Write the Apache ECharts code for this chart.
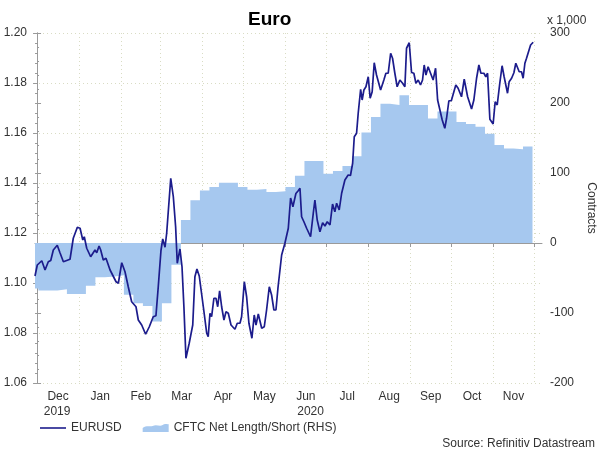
<!DOCTYPE html>
<html>
<head>
<meta charset="utf-8">
<script src="https://cdn.jsdelivr.net/npm/echarts@6/dist/echarts.min.js"></script>
<style>
  html, body { margin: 0; padding: 0; background: #fff; }
  #chart { width: 600px; height: 450px; }
</style>
</head>
<body>
<div id="chart"></div>
<script>
// x is counted in days from 1 Dec 2019
const fxDay = [-1.5, 0.2, 3.5, 4.6, 5.9, 8.3, 10.1, 12.0, 14.9, 16.9, 19.4, 24.3, 26.7, 29.7, 31.7, 33.7, 34.8, 36.6,
  39.5, 42.7, 44.0, 45.7, 46.9, 48.8, 50.8, 53.8, 58.2, 59.9, 62.4, 64.8, 67.2, 69.7, 72.9, 74.6, 77.1, 80.0,
  82.7, 85.6, 87.6, 89.3, 91.3, 92.6, 94.3, 95.5, 98.5, 100.4, 102.1, 103.3, 104.3, 105.3, 106.8, 108.2, 109.7,
  111.0, 112.1, 114.7, 116.3, 117.8, 119.5, 122.5, 125.0, 126.1, 127.4, 128.6, 130.3, 131.8, 133.1, 134.5,
  136.0, 137.7, 139.2, 140.9, 142.9, 145.8, 147.5, 149.5, 150.7, 152.7, 154.4, 156.1, 158.3, 160.0, 161.3,
  163.0, 165.5, 167.4, 169.1, 171.1, 172.8, 174.5, 176.0, 177.5, 178.6, 180.2, 182.6, 185.1, 186.8, 188.5,
  190.7, 192.4, 193.7, 194.9, 196.6, 198.6, 201.5, 203.5, 204.7, 206.4, 208.4, 210.4, 212.1, 213.8, 215.8,
  217.7, 219.4, 220.7, 222.6, 224.4, 226.8, 229.2, 230.9, 232.5, 233.7, 235.4, 236.6, 238.4, 239.5, 240.8,
  242.3, 244.0, 245.4, 246.9, 248.4, 250.1, 251.5, 253.1, 255.5, 257.0, 258.7, 260.5, 261.9, 263.6, 265.3,
  267.3, 269.3, 271.0, 272.2, 274.2, 275.9, 277.6, 279.1, 280.8, 282.5, 284.0, 285.2, 286.5, 288.1, 289.9,
  291.8, 293.6, 295.1, 296.8, 298.5, 300.4, 301.7, 303.4, 305.2, 306.6, 308.5, 310.2, 312.7, 314.7, 315.9,
  317.2, 318.5, 320.1, 321.8, 323.8, 325.5, 327.0, 329.2, 330.6, 331.9, 333.6, 336.0, 337.5, 339.0, 340.9,
  342.6, 344.1, 345.4, 346.6, 347.8, 349.6, 351.3, 352.7, 353.7, 355.2, 356.9, 358.1, 359.4, 360.6, 361.8,
  363.6, 365.5];
const fxValue = [1.1028, 1.1072, 1.1089, 1.1092, 1.1052, 1.1085, 1.1090, 1.1132, 1.1151, 1.1121, 1.1085, 1.1095, 1.1179, 1.1223, 1.1219, 1.1172, 1.1185, 1.1139,
  1.1105, 1.1132, 1.1121, 1.1148, 1.1132, 1.1092, 1.1099, 1.1052, 1.1005, 1.0999, 1.1081, 1.1045, 1.0985, 1.0925, 1.0905, 1.0852, 1.0832, 1.0795,
  1.0825, 1.0865, 1.0869, 1.0985, 1.1130, 1.1176, 1.1143, 1.1199, 1.1419, 1.1345, 1.1225, 1.1079, 1.1072, 1.1136, 1.1065, 1.0905, 1.0699,
  1.0692, 1.0759, 1.0832, 1.1025, 1.1056, 1.1028, 1.0905, 1.0799, 1.0785, 1.0879, 1.0865, 1.0939, 1.0939, 1.0905, 1.0969,
  1.0905, 1.0852, 1.0885, 1.0879, 1.0832, 1.0815, 1.0839, 1.0839, 1.0865, 1.1005, 1.0945, 1.0839, 1.0779, 1.0872, 1.0832,
  1.0876, 1.0819, 1.0825, 1.0892, 1.0985, 1.0952, 1.0892, 1.0892, 1.0981, 1.0978, 1.1112, 1.1159, 1.1219, 1.1340, 1.1305,
  1.1358, 1.1369, 1.1379, 1.1265, 1.1245, 1.1219, 1.1185, 1.1279, 1.1332, 1.1252, 1.1205, 1.1241, 1.1228, 1.1245, 1.1232,
  1.1316, 1.1285, 1.1319, 1.1292, 1.1359, 1.1412, 1.1432, 1.1430, 1.1479, 1.1585, 1.1599, 1.1679, 1.1775, 1.1732, 1.1772,
  1.1785, 1.1825, 1.1739, 1.1765, 1.1881, 1.1832, 1.1832, 1.1772, 1.1812, 1.1839, 1.1839, 1.1919, 1.1899, 1.1839, 1.1785,
  1.1812, 1.1799, 1.1785, 1.1939, 1.1961, 1.1842, 1.1839, 1.1799, 1.1812, 1.1792, 1.1812, 1.1872, 1.1832, 1.1865, 1.1839,
  1.1812, 1.1859, 1.1732, 1.1692, 1.1652, 1.1619, 1.1659, 1.1729, 1.1729, 1.1725, 1.1792, 1.1779, 1.1745, 1.1815, 1.1812,
  1.1745, 1.1750, 1.1696, 1.1732, 1.1819, 1.1872, 1.1839, 1.1839, 1.1825, 1.1839, 1.1655, 1.1636, 1.1725, 1.1712, 1.1799,
  1.1869, 1.1825, 1.1819, 1.1759, 1.1805, 1.1819, 1.1841, 1.1879, 1.1875, 1.1845, 1.1845, 1.1819, 1.1879, 1.1899, 1.1899,
  1.1952, 1.1963];

// CFTC net position, thousands of contracts, one value per week from Monday 25 Nov 2019
const cftcFirstWeek = -6;
const cftcNet = [-65, -68, -68, -66, -73, -73, -61, -49, -48, -46, -74, -86, -90, -112, -86, -31,
  33, 61, 75, 80, 86, 86, 80, 76, 77, 73, 74, 80, 96, 117, 117, 99, 103, 110, 124, 158, 180,
  199, 197, 211, 197, 197, 178, 188, 188, 173, 170, 166, 156, 140, 135, 134, 138, 138];

const monthNames = ['Dec', 'Jan', 'Feb', 'Mar', 'Apr', 'May', 'Jun', 'Jul', 'Aug', 'Sep', 'Oct', 'Nov'];
const yearNames = ['2019', '2020'];
const xMin = -1.5, xMax = 372;

function dayOf(y, m, d) {
  return (Date.UTC(y, m - 1, d) - Date.UTC(2019, 11, 1)) / 864e5;
}

var monthStarts = [];
for (var i = 0; i <= 12; i++) monthStarts.push(dayOf(2019, 12 + i, 1));
var monthMids = [];
for (var i = 0; i < 12; i++) monthMids.push((monthStarts[i] + monthStarts[i + 1]) / 2);
var jan1 = dayOf(2020, 1, 1);
var yearMids = [(xMin + jan1) / 2, (jan1 + xMax) / 2];

var fxData = fxDay.map(function (d, i) { return [d, fxValue[i]]; });
var cftcData = cftcNet.map(function (v, i) { return [cftcFirstWeek + 7 * i, v]; });

function nearestName(list, names, v) {
  for (var i = 0; i < list.length; i++) if (Math.abs(list[i] - v) < 0.01) return names[i];
  return '';
}

var gridColor = '#d9dcc4';
var axisColor = '#9a9a9a';
var textColor = '#333';
var areaColor = '#a6c8ef';
var lineColor = '#1c1c8c';

var myChart = echarts.init(document.getElementById('chart'), null, {renderer: 'canvas'});
myChart.setOption({
  animation: false,
  textStyle: {fontFamily: 'Liberation Sans'},
  title: {
    text: 'Euro',
    left: 243, top: 5,
    textStyle: {fontSize: 19, fontWeight: 'bold', color: '#000', fontFamily: 'Liberation Sans'}
  },
  // keep the plot box fixed, do not shrink it for the axis name
  grid: {left: 35, right: 58, top: 33, bottom: 67, outerBoundsMode: 'none', containLabel: false},
  legend: {
    left: 35, top: 417,
    itemWidth: 26, itemHeight: 10, itemGap: 21,
    textStyle: {fontSize: 12, color: textColor},
    data: [
      // thin line, the two empty moves keep the icon box 26x10
      {name: 'EURUSD',
       icon: 'path://M0,0 L0,0 M26,10 L26,10 M0,4.2 L26,4.2 L26,5.8 L0,5.8 Z',
       itemStyle: {color: lineColor}},
      {name: 'CFTC Net Length/Short (RHS)',
       icon: 'path://M0,6 C4,3 7,5 10,4 C14,2 17,5 20,3 C23,1 25,3 26,2 L26,10 L0,10 Z',
       itemStyle: {color: areaColor}}
    ]
  },
  xAxis: [{
    type: 'value', min: xMin, max: xMax,
    axisLine: {show: true, lineStyle: {color: axisColor}},
    axisTick: {show: true, length: 4, customValues: monthStarts, lineStyle: {color: axisColor}},
    axisLabel: {
      customValues: monthMids, margin: 8, fontSize: 12, color: textColor,
      formatter: function (v) { return nearestName(monthMids, monthNames, v); }
    },
    splitLine: {show: true, lineStyle: {color: gridColor, type: [1, 3]}}
  }, {
    type: 'value', min: xMin, max: xMax, position: 'bottom', offset: 15,
    axisLine: {show: false}, axisTick: {show: false}, splitLine: {show: false},
    axisLabel: {
      customValues: yearMids, margin: 8, fontSize: 12, color: textColor,
      formatter: function (v) { return nearestName(yearMids, yearNames, v); }
    }
  }],
  yAxis: [{
    type: 'value', min: 1.06, max: 1.20, interval: 0.02, position: 'left',
    axisLine: {show: true, lineStyle: {color: axisColor}},
    axisTick: {show: true, length: 4, lineStyle: {color: axisColor}},
    minorTick: {show: true, splitNumber: 5, length: 2, lineStyle: {color: axisColor}},
    axisLabel: {margin: 8, fontSize: 12, color: textColor, formatter: function (v) { return v.toFixed(2); }},
    splitLine: {show: true, lineStyle: {color: gridColor, type: [1, 3]}}
  }, {
    type: 'value', min: -200, max: 300, interval: 100, position: 'right',
    name: 'Contracts', nameLocation: 'middle', nameGap: 43, nameRotate: -90,
    nameTextStyle: {fontSize: 12, color: textColor},
    axisLine: {show: true, lineStyle: {color: axisColor}},
    axisTick: {show: true, length: 4, lineStyle: {color: axisColor}},
    minorTick: {show: true, splitNumber: 5, length: 2, lineStyle: {color: axisColor}},
    axisLabel: {margin: 8, fontSize: 12, color: textColor},
    splitLine: {show: false}
  }],
  graphic: [
    {type: 'text', left: 547, top: 15, style: {text: 'x 1,000', fontSize: 12, fill: textColor, fontFamily: 'Liberation Sans'}},
    {type: 'text', right: 5, top: 438, style: {text: 'Source: Refinitiv Datastream', fontSize: 12, fill: textColor, fontFamily: 'Liberation Sans'}}
  ],
  series: [{
    name: 'CFTC Net Length/Short (RHS)',
    type: 'line', xAxisIndex: 0, yAxisIndex: 1,
    step: 'end', symbol: 'none',
    data: cftcData,
    itemStyle: {color: areaColor},
    lineStyle: {width: 0, color: areaColor},
    areaStyle: {color: areaColor, opacity: 1},
    z: 1
  }, {
    name: 'EURUSD',
    type: 'line', xAxisIndex: 0, yAxisIndex: 0,
    symbol: 'none',
    data: fxData,
    itemStyle: {color: lineColor},
    lineStyle: {width: 1.7, color: lineColor},
    z: 3
  }]
});
</script>
</body>
</html>
